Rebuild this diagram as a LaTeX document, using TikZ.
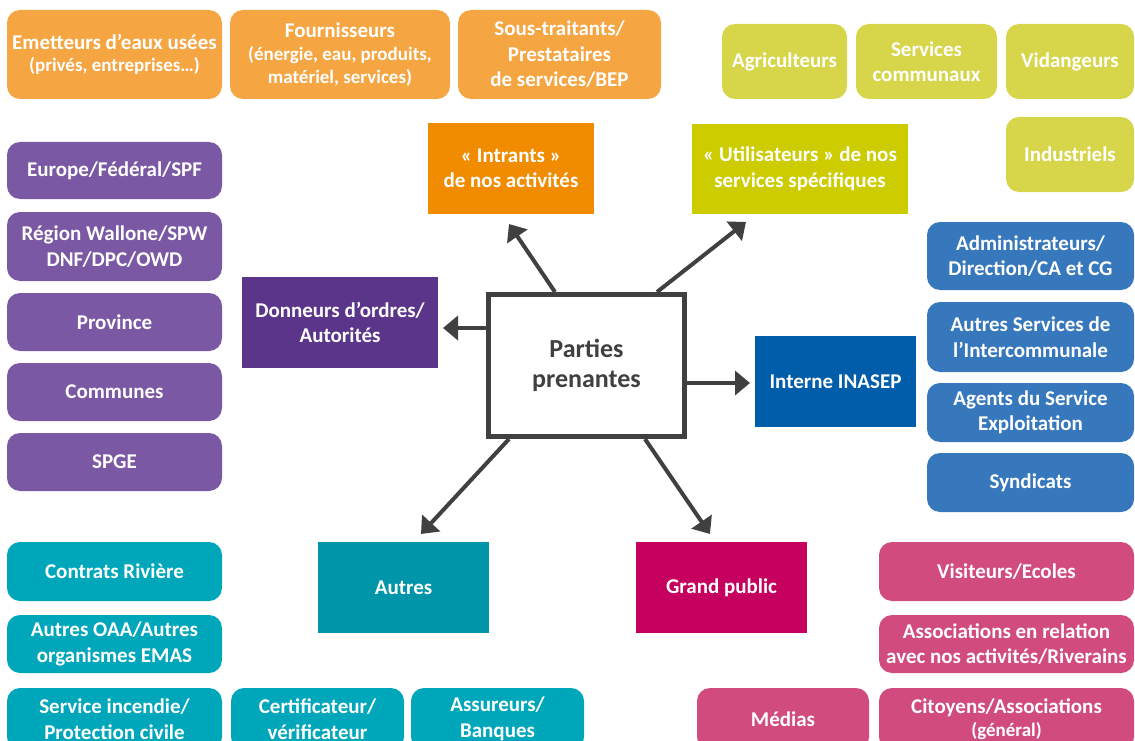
\documentclass[tikz,border=0pt]{standalone}
\usepackage{fontspec}
\setmainfont{Carlito}
\usetikzlibrary{arrows.meta}

% couleurs des familles (clair = bulles, fonce = categories)
\definecolor{orclair}{HTML}{F5A541}
\definecolor{orfonce}{HTML}{F18C00}
\definecolor{vertclair}{HTML}{D7D64A}
\definecolor{vertfonce}{HTML}{CCCC00}
\definecolor{violclair}{HTML}{7A58A4}
\definecolor{violfonce}{HTML}{5B3589}
\definecolor{bleuclair}{HTML}{3778BD}
\definecolor{bleufonce}{HTML}{005DAA}
\definecolor{turqclair}{HTML}{00A7BB}
\definecolor{turqfonce}{HTML}{0095A9}
\definecolor{roseclair}{HTML}{D14B7E}
\definecolor{rosefonce}{HTML}{C6005E}
\definecolor{gristrait}{HTML}{404040}

\newcommand\petit[1]{{\fontsize{19}{22}\selectfont #1}}

\begin{document}
\begin{tikzpicture}[x=1pt,y=-1pt,
	every node/.style={font=\fontsize{21}{25.5}\selectfont\bfseries, text=white, align=center, inner sep=0pt},
	bulle/.style={fill=#1, rounded corners=13pt, minimum height=58},
	carre/.style={fill=#1, minimum height=91},
	fleche/.style={draw=gristrait, line width=4pt, -{Triangle[length=15pt,width=24pt]}}]

\useasboundingbox (0,0) rectangle (1135,741);
\clip (0,0) rectangle (1135,741);

% fournisseurs / intrants
\node[bulle=orclair, minimum width=215, minimum height=89] (emetteurs) at (114.5,54.5) {Emetteurs d’eaux usées\\[-3pt]\petit{(privés, entreprises…)}};
\node[bulle=orclair, minimum width=220, minimum height=89] (fournisseurs) at (340,54.5) {Fournisseurs\\[-2pt]\petit{(énergie, eau, produits,}\\[-3pt]\petit{matériel, services)}};
\node[bulle=orclair, minimum width=203, minimum height=89] (soustraitants) at (559.5,54.5) {Sous-traitants/\\Prestataires\\de services/BEP};

% utilisateurs
\node[bulle=vertclair, minimum width=125, minimum height=75] (agriculteurs) at (784.5,61.5) {Agriculteurs};
\node[bulle=vertclair, minimum width=141, minimum height=75] (servcommunaux) at (926.5,61.5) {Services\\communaux};
\node[bulle=vertclair, minimum width=128, minimum height=75] (vidangeurs) at (1070,61.5) {Vidangeurs};
\node[bulle=vertclair, minimum width=128, minimum height=75] (industriels) at (1070,154.5) {Industriels};

% autorites
\node[bulle=violclair, minimum width=215, minimum height=57] (europe) at (114.5,170.5) {Europe/Fédéral/SPF};
\node[bulle=violclair, minimum width=215, minimum height=69] (region) at (114.5,246.5) {Région Wallone/SPW\\DNF/DPC/OWD};
\node[bulle=violclair, minimum width=215] (province) at (114.5,322) {Province};
\node[bulle=violclair, minimum width=215] (communes) at (114.5,392) {Communes};
\node[bulle=violclair, minimum width=215] (spge) at (114.5,462) {SPGE};

% interne
\node[bulle=bleuclair, minimum width=207, minimum height=68] (admin) at (1030.5,256) {Administrateurs/\\Direction/CA et CG};
\node[bulle=bleuclair, minimum width=207, minimum height=70] (autserv) at (1030.5,337) {Autres Services de\\l’Intercommunale};
\node[bulle=bleuclair, minimum width=207, minimum height=59] (agents) at (1030.5,412.5) {Agents du Service\\Exploitation};
\node[bulle=bleuclair, minimum width=207, minimum height=59] (syndicats) at (1030.5,482.5) {Syndicats};

% autres
\node[bulle=turqclair, minimum width=215, minimum height=59] (contrats) at (114.5,571.5) {Contrats Rivière};
\node[bulle=turqclair, minimum width=215] (oaa) at (114.5,644) {Autres OAA/Autres\\organismes EMAS};
\node[bulle=turqclair, minimum width=215, minimum height=62] (incendie) at (114.5,719) {Service incendie/\\Protection civile};
\node[bulle=turqclair, minimum width=173, minimum height=62] (certif) at (317.5,719) {Certificateur/\\vérificateur};
\node[bulle=turqclair, minimum width=173, minimum height=62] (assureurs) at (497.5,719) {Assureurs/\\Banques};

% grand public
\node[bulle=roseclair, minimum width=255, minimum height=59] (visiteurs) at (1006.5,571.5) {Visiteurs/Ecoles};
\node[bulle=roseclair, minimum width=255] (associations) at (1006.5,644) {Associations en relation\\avec nos activités/Riverains};
\node[bulle=roseclair, minimum width=255, minimum height=62] (citoyens) at (1006.5,719) {Citoyens/Associations\\[-3pt]\petit{(général)}};
\node[bulle=roseclair, minimum width=172, minimum height=62] (medias) at (783,719) {Médias};

% categories
\node[carre=orfonce, minimum width=166] (intrants) at (511,168.5) {« Intrants »\\de nos activités};
\node[carre=vertfonce, minimum width=216, minimum height=90] (utilisateurs) at (800,169) {« Utilisateurs » de nos\\services spécifiques};
\node[carre=violfonce, minimum width=196] (donneurs) at (340,322.5) {Donneurs d’ordres/\\Autorités};
\node[carre=bleufonce, minimum width=161] (interne) at (835.5,381.5) {Interne INASEP};
\node[carre=turqfonce, minimum width=171] (autres) at (403.5,587.5) {Autres};
\node[carre=rosefonce, minimum width=171] (grandpublic) at (721.5,587.5) {Grand public};

% centre
\node[draw=gristrait, line width=5pt, fill=white, minimum width=196, minimum height=142,
	text=gristrait, font=\fontsize{26}{30}\selectfont\bfseries] (centre) at (586.5,365.5) {Parties\\prenantes};

% pointes des fleches
\coordinate (pI) at (509,224);
\coordinate (pU) at (746,222);
\coordinate (pD) at (443,328);
\coordinate (pN) at (750,383);
\coordinate (pA) at (421,534);
\coordinate (pG) at (710,534);

\draw[fleche] ([xshift=-31.5pt]centre.north) -- (pI);
\draw[fleche] ([xshift=70.5pt]centre.north) -- (pU);
\draw[fleche] ([yshift=37.5pt]centre.west) -- (pD);
\draw[fleche] ([yshift=-17.5pt]centre.east) -- (pN);
\draw[fleche] ([xshift=-77.5pt]centre.south) -- (pA);
\draw[fleche] ([xshift=58.5pt]centre.south) -- (pG);
\end{tikzpicture}
\end{document}
